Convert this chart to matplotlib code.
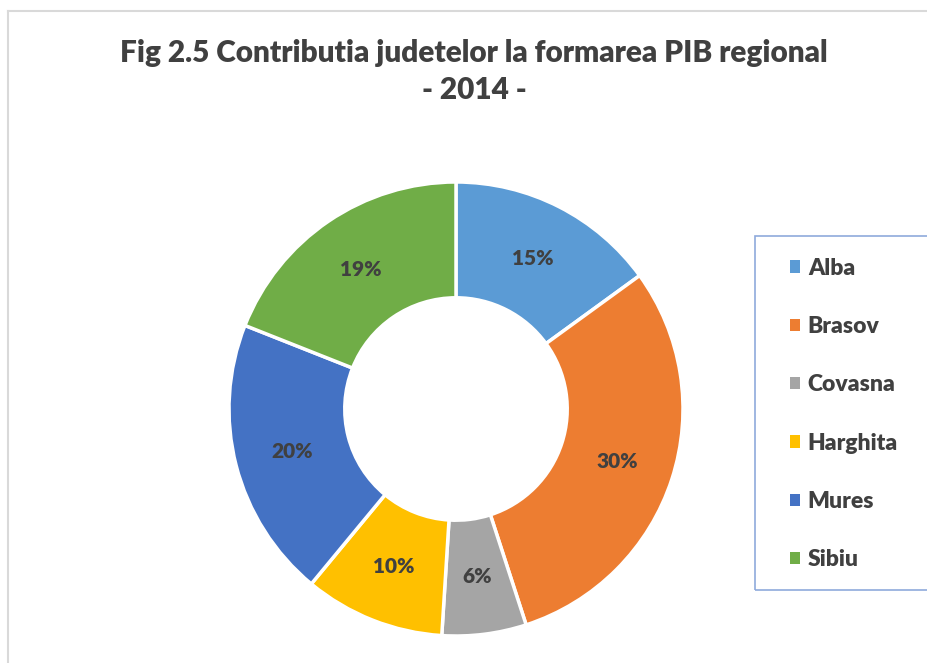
"""Doughnut chart: county contribution to regional GDP, 2014."""

import matplotlib.pyplot as plt
import numpy as np
from matplotlib.lines import Line2D
from matplotlib.patches import Patch, Rectangle

counties = ["Alba", "Brasov", "Covasna", "Harghita", "Mures", "Sibiu"]
shares = [15, 30, 6, 10, 20, 19]
colors = ["#5B9BD5", "#ED7D31", "#A5A5A5", "#FFC000", "#4472C4", "#70AD47"]
title = "Fig 2.5 Contributia judetelor la formarea PIB regional\n- 2014 -"

W, H = 928, 663
plt.rcParams["font.family"] = ["Lato", "DejaVu Sans"]
text_color = "#404040"
weight = "heavy"

fig = plt.figure(figsize=(W / 100, H / 100), dpi=100)
ax = fig.add_axes([0, 0, 1, 1])

# chart area border (only left and top are inside the crop)
fig.add_artist(Line2D([8.5 / W, 8.5 / W], [0, 1 - 10.5 / H], color="#D9D9D9", lw=1.5))
fig.add_artist(Line2D([8.5 / W, 1], [1 - 10.5 / H, 1 - 10.5 / H], color="#D9D9D9", lw=1.5))

cx, cy, r = 456, H - 409, 227
ax.pie(
    shares, colors=colors, startangle=90, counterclock=False,
    center=(cx, cy), radius=r, frame=True,
    wedgeprops=dict(width=r * 0.51, edgecolor="white", linewidth=2.5),
)
ax.set_xlim(0, W)
ax.set_ylim(0, H)
ax.set_aspect("equal")
ax.axis("off")

mid_r = r * 0.745
start = 90.0
for val in shares:
    ang = np.deg2rad(start - val * 3.6 / 2)
    ax.text(cx + mid_r * np.cos(ang), cy + mid_r * np.sin(ang), f"{val}%",
            ha="center", va="center", fontsize=15, fontweight=weight, color=text_color)
    start -= val * 3.6

ax.text(474, H - 71.5, title, ha="center", va="center", fontsize=21.4,
        fontweight=weight, color=text_color, linespacing=1.42)

# legend box
ax.add_patch(Rectangle((755.5, H - 589.5), 200, 354, fill=False,
                       edgecolor="#8FAADC", lw=1.2, clip_on=False))
handles = [Patch(facecolor=c, edgecolor="none") for c in colors]
ax.legend(handles, counties, loc="upper left", bbox_to_anchor=(781 / W, 1 - 248.5 / H),
          frameon=False, handlelength=0.45, handleheight=0.45, handletextpad=0.32,
          labelspacing=1.63, prop=dict(size=16.5, weight=weight), labelcolor=text_color,
          borderaxespad=0)

fig.savefig("out.png", dpi=100)
